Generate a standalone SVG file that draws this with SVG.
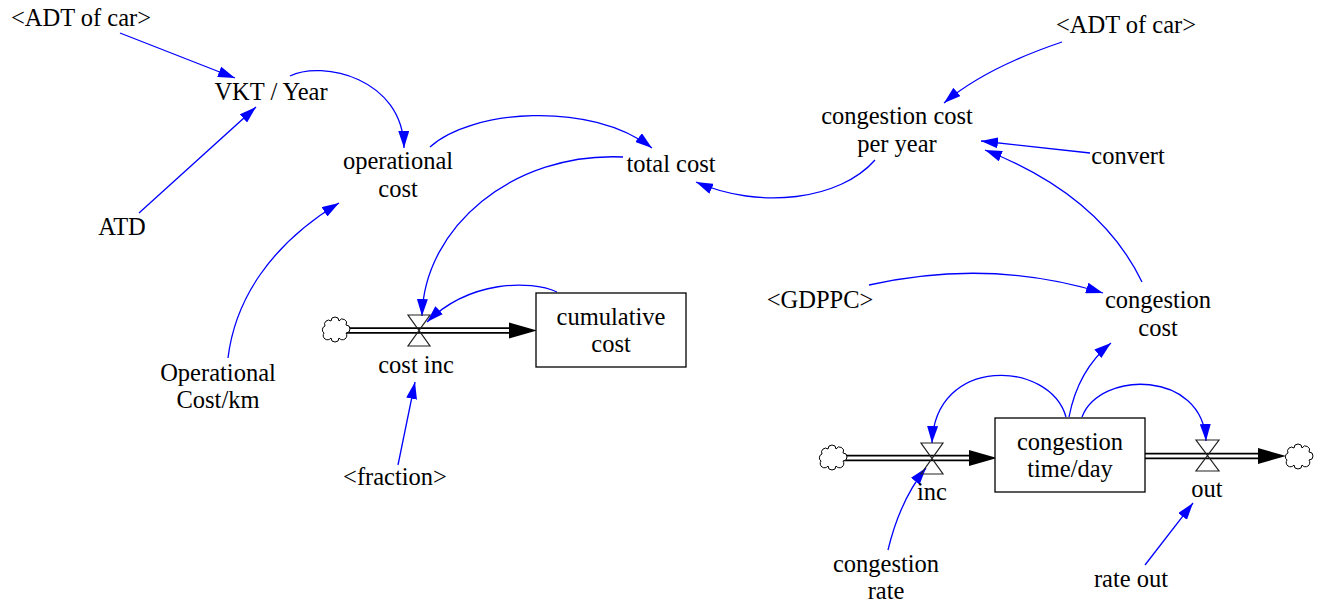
<svg xmlns="http://www.w3.org/2000/svg" width="1318" height="603" viewBox="0 0 1318 603">
  <defs>
    <style>
      .lbl { font-size: 24.5px; fill: #000; text-anchor: middle; }
      .link { fill: none; stroke: #0000ff; stroke-width: 1.3; marker-end: url(#ab); }
      .pipeOuter { stroke: #000; stroke-width: 6.5; fill: none; }
      .pipeInner { stroke: #fff; stroke-width: 3.2; fill: none; }
      .stock { fill: #fff; stroke: #000; stroke-width: 1.3; }
      .valve { fill: none; stroke: #222; stroke-width: 1.2; }
      .cloud { fill: #fff; stroke: #000; stroke-width: 1; }
      .flowhead { fill: #000; }
    </style>
    <marker id="ab" viewBox="0 0 17 11" refX="17" refY="5.5" markerWidth="17" markerHeight="11" markerUnits="userSpaceOnUse" orient="auto">
      <path d="M0,0 L17,5.5 L0,11 z" fill="#0000ff"/>
    </marker>
    <path id="cloudShape" d="M-10,-4 a4,4 0 0 1 6,-5 a4,4 0 0 1 8,0 a4,4 0 0 1 7,4 a4,4 0 0 1 0,8 a4,4 0 0 1 -7,5 a4,4 0 0 1 -8,0 a4,4 0 0 1 -7,-5 a4,4 0 0 1 1,-7 z"/>
  </defs>

  <rect width="1318" height="603" fill="#fff"/>

  <!-- material flow pipes -->
  <g id="pipes">
    <line class="pipeOuter" x1="346" y1="330.5" x2="512" y2="330.5"/>
    <line class="pipeInner" x1="345" y1="330.5" x2="512" y2="330.5"/>
    <path class="flowhead" d="M509,322.5 L537,330.5 L509,338.5 z"/>

    <line class="pipeOuter" x1="843" y1="458" x2="972" y2="458"/>
    <line class="pipeInner" x1="842" y1="458" x2="972" y2="458"/>
    <path class="flowhead" d="M969,450 L997,458 L969,466 z"/>

    <line class="pipeOuter" x1="1145" y1="456" x2="1261" y2="456"/>
    <line class="pipeInner" x1="1145" y1="456" x2="1261" y2="456"/>
    <path class="flowhead" d="M1258,448 L1286,456 L1258,464 z"/>
  </g>

  <!-- sources and sinks -->
  <g id="clouds">
    <use href="#cloudShape" class="cloud" x="335" y="330"/>
    <use href="#cloudShape" class="cloud" x="832" y="458"/>
    <use href="#cloudShape" class="cloud" x="1298" y="457"/>
  </g>

  <!-- information links -->
  <g id="connectors">
    <line class="link" x1="120" y1="33" x2="235" y2="78"/>
    <line class="link" x1="139" y1="213" x2="256" y2="107"/>
    <path class="link" d="M290,76 C322,60 403,78 404,148"/>
    <path class="link" d="M228,358 C235,300 270,245 339,203"/>
    <path class="link" d="M430,147 C470,110 590,100 652,148"/>
    <path class="link" d="M623,157 C513,152 424,227 422,316"/>
    <path class="link" d="M557,292 C530,280 470,280 427,322"/>
    <line class="link" x1="398" y1="465" x2="415" y2="382"/>
    <path class="link" d="M875,160 C840,200 760,210 696,182"/>
    <path class="link" d="M1062,42 Q985,68 944,103"/>
    <line class="link" x1="1090" y1="153" x2="981" y2="141"/>
    <path class="link" d="M1142,282 Q1100,195 985,150"/>
    <path class="link" d="M869,285 Q990,258 1103,293"/>
    <path class="link" d="M1069,417 Q1078,370 1111,343"/>
    <path class="link" d="M1066,417 C1050,360 935,355 932,443"/>
    <path class="link" d="M1082,417 C1100,370 1203,370 1206,441"/>
    <path class="link" d="M888,550 Q900,500 926,468"/>
    <line class="link" x1="1145" y1="565" x2="1193" y2="503"/>
  </g>

  <g font-family="'Liberation Serif', 'Times New Roman', Times, serif">
  <!-- stocks -->
  <g id="cumulative-cost">
    <rect class="stock" x="536" y="293" width="150" height="74"/>
    <text class="lbl" x="611" y="325">cumulative</text>
    <text class="lbl" x="611" y="352">cost</text>
  </g>
  <g id="congestion-time-day">
    <rect class="stock" x="995" y="418" width="150" height="74"/>
    <text class="lbl" x="1070" y="450">congestion</text>
    <text class="lbl" x="1070" y="477">time/day</text>
  </g>

  <!-- flows -->
  <g id="cost-inc">
    <path class="valve" d="M408,315 L430,315 L408,346 L430,346 z"/>
    <text class="lbl" x="416" y="373">cost inc</text>
  </g>
  <g id="inc">
    <path class="valve" d="M921,443 L943,443 L921,474 L943,474 z"/>
    <text class="lbl" x="932" y="500">inc</text>
  </g>
  <g id="out">
    <path class="valve" d="M1196,440 L1219,440 L1196,471 L1219,471 z"/>
    <text class="lbl" x="1207" y="497">out</text>
  </g>

  <!-- auxiliaries -->
  <g id="adt-of-car-1"><text class="lbl" x="81" y="26">&lt;ADT of car&gt;</text></g>
  <g id="vkt-year"><text class="lbl" x="271" y="100">VKT / Year</text></g>
  <g id="atd"><text class="lbl" x="122" y="235">ATD</text></g>
  <g id="operational-cost">
    <text class="lbl" x="398" y="169">operational</text>
    <text class="lbl" x="398" y="197">cost</text>
  </g>
  <g id="total-cost"><text class="lbl" x="671" y="172">total cost</text></g>
  <g id="congestion-cost-per-year">
    <text class="lbl" x="897" y="124">congestion cost</text>
    <text class="lbl" x="897" y="152">per year</text>
  </g>
  <g id="adt-of-car-2"><text class="lbl" x="1126" y="33">&lt;ADT of car&gt;</text></g>
  <g id="convert"><text class="lbl" x="1128" y="164">convert</text></g>
  <g id="gdppc"><text class="lbl" x="820" y="308">&lt;GDPPC&gt;</text></g>
  <g id="congestion-cost">
    <text class="lbl" x="1158" y="308">congestion</text>
    <text class="lbl" x="1158" y="336">cost</text>
  </g>
  <g id="operational-cost-km">
    <text class="lbl" x="218" y="381">Operational</text>
    <text class="lbl" x="218" y="408">Cost/km</text>
  </g>
  <g id="fraction"><text class="lbl" x="395" y="485">&lt;fraction&gt;</text></g>
  <g id="congestion-rate">
    <text class="lbl" x="886" y="572">congestion</text>
    <text class="lbl" x="886" y="599">rate</text>
  </g>
  <g id="rate-out"><text class="lbl" x="1131" y="587">rate out</text></g>
  </g>
</svg>
